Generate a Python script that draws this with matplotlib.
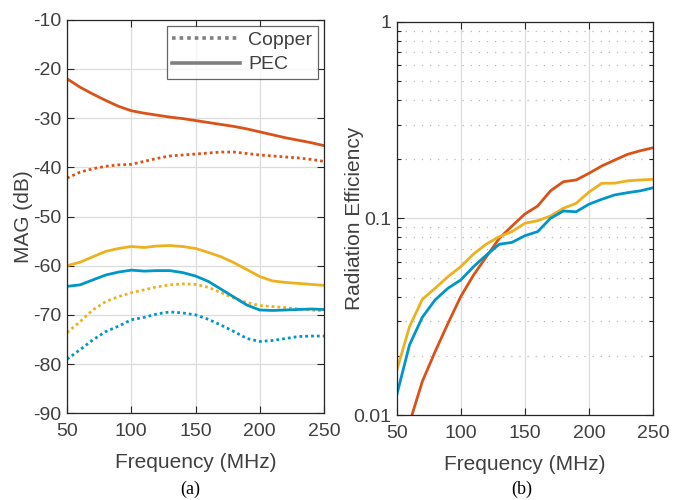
import matplotlib
matplotlib.use("Agg")
import matplotlib.pyplot as plt
from matplotlib.ticker import FixedLocator, LogLocator, NullFormatter
from matplotlib.lines import Line2D

plt.rcParams['font.family'] = ['Liberation Sans', 'DejaVu Sans']
plt.rcParams['axes.unicode_minus'] = False

freq = [50, 60, 70, 80, 90, 100, 110, 120, 130, 140, 150, 160, 170, 180, 190, 200, 210, 220, 230, 240, 250]

# (a) MAG (dB)
pec_red = [-22.0, -23.7, -25.1, -26.4, -27.6, -28.5, -29.0, -29.4, -29.8, -30.1, -30.5, -30.9, -31.3, -31.7, -32.2, -32.8, -33.4, -34.0, -34.5, -35.0, -35.6]
cu_red = [-42.2, -41.0, -40.3, -39.8, -39.5, -39.4, -38.8, -38.2, -37.7, -37.5, -37.3, -37.1, -36.9, -36.9, -37.2, -37.5, -37.7, -37.9, -38.1, -38.4, -38.8]
pec_yel = [-60.0, -59.3, -58.2, -57.1, -56.5, -56.1, -56.3, -56.0, -55.9, -56.1, -56.5, -57.3, -58.2, -59.4, -60.8, -62.2, -63.1, -63.4, -63.6, -63.8, -64.0]
cu_yel = [-73.6, -71.4, -69.0, -67.3, -66.3, -65.5, -64.9, -64.3, -63.9, -63.7, -63.8, -64.4, -65.5, -66.6, -67.5, -68.1, -68.3, -68.5, -68.8, -69.0, -69.2]
pec_blu = [-64.2, -63.9, -62.9, -61.9, -61.3, -60.9, -61.1, -61.0, -61.0, -61.4, -62.1, -63.2, -64.8, -66.4, -68.0, -69.0, -69.1, -69.0, -68.9, -68.8, -68.9]
cu_blu = [-79.0, -77.1, -75.1, -73.4, -72.3, -71.0, -70.5, -69.8, -69.4, -69.6, -70.0, -70.9, -72.1, -73.4, -74.8, -75.4, -75.2, -74.8, -74.4, -74.3, -74.3]

# (b) Radiation efficiency
eff_red = [0.0060, 0.0091, 0.0148, 0.0210, 0.0292, 0.0400, 0.0515, 0.0638, 0.0791, 0.0914, 0.1052, 0.1155, 0.138, 0.1535, 0.1567, 0.1694, 0.1846, 0.1977, 0.2115, 0.2206, 0.2285]
eff_yel = [0.0168, 0.0281, 0.0387, 0.0441, 0.0505, 0.0568, 0.0659, 0.0740, 0.0807, 0.0856, 0.0944, 0.0973, 0.1028, 0.1125, 0.1192, 0.136, 0.1507, 0.151, 0.155, 0.1567, 0.158]
eff_blu = [0.0126, 0.0227, 0.0314, 0.0385, 0.0441, 0.0486, 0.0568, 0.0651, 0.0738, 0.0755, 0.0816, 0.0856, 0.100, 0.109, 0.108, 0.118, 0.125, 0.1315, 0.135, 0.138, 0.143]

xticks = [50, 100, 150, 200, 250]
yticks_a = [-90, -80, -70, -60, -50, -40, -30, -20, -10]
yticks_b = [0.01, 0.1, 1]
yticklabels_b = ['0.01', '0.1', '1']
legend_labels = ['Copper', 'PEC']

RED = '#D95319'
YEL = '#EDB120'
BLU = '#0096C8'
TXT = '#404040'
GRID = '#dcdcdc'
DOT = (0, (1, 1.1))
LW = 2.0
TICKFS = 14
LABFS = 15

fig = plt.figure(figsize=(6.73, 5.0), dpi=100)
ax1 = fig.add_axes([0.0996, 0.1734, 0.3819, 0.7872])
ax2 = fig.add_axes([0.5894, 0.1700, 0.3809, 0.7866])

def style(ax):
    for s in ax.spines.values():
        s.set_color('#262626')
        s.set_linewidth(0.9)
    ax.tick_params(which='both', direction='in', top=True, right=True,
                   colors='#262626', labelcolor=TXT, labelsize=TICKFS, width=0.8)
    ax.tick_params(which='major', length=5)
    ax.tick_params(which='minor', length=3)
    ax.tick_params(axis='x', which='both', pad=7)
    ax.tick_params(axis='y', which='both', pad=4)
    ax.set_axisbelow(True)

# ---- (a)
ax1.plot(freq, pec_red, color=RED, lw=LW)
ax1.plot(freq, cu_red, color=RED, lw=LW, ls=DOT)
ax1.plot(freq, pec_yel, color=YEL, lw=LW)
ax1.plot(freq, cu_yel, color=YEL, lw=LW, ls=DOT)
ax1.plot(freq, pec_blu, color=BLU, lw=LW)
ax1.plot(freq, cu_blu, color=BLU, lw=LW, ls=DOT)
ax1.set_xlim(50, 250)
ax1.set_ylim(-90, -10)
ax1.set_xticks(xticks)
ax1.set_yticks(yticks_a)
ax1.grid(True, color=GRID, lw=0.9)
style(ax1)
ax1.set_xlabel('Frequency (MHz)', fontsize=LABFS, color=TXT, labelpad=9.5)
ax1.set_ylabel('MAG (dB)', fontsize=LABFS, color=TXT)
ax1.yaxis.set_label_coords(-0.131, 0.5)
handles = [Line2D([], [], color='#808080', lw=2.6, ls=DOT),
           Line2D([], [], color='#808080', lw=2.6)]
leg = ax1.legend(handles, legend_labels, loc='upper right', fontsize=14,
                 frameon=True, fancybox=False, edgecolor='#404040',
                 handlelength=3.5, handletextpad=0.4, borderpad=0.3,
                 labelspacing=0.35, borderaxespad=0.3)
leg.get_frame().set_linewidth(0.9)
for t in leg.get_texts():
    t.set_color(TXT)

# ---- (b)
ax2.plot(freq, eff_red, color=RED, lw=LW)
ax2.plot(freq, eff_yel, color=YEL, lw=LW)
ax2.plot(freq, eff_blu, color=BLU, lw=LW)
ax2.set_yscale('log')
ax2.set_xlim(50, 250)
ax2.set_ylim(0.01, 1)
ax2.set_xticks(xticks)
ax2.yaxis.set_major_locator(FixedLocator(yticks_b))
ax2.set_yticklabels(yticklabels_b)
ax2.yaxis.set_minor_locator(LogLocator(base=10, subs=range(2, 10)))
ax2.yaxis.set_minor_formatter(NullFormatter())
ax2.grid(True, which='major', color=GRID, lw=0.9)
ax2.grid(True, which='minor', axis='y', color='#b8b8b8', lw=0.9, ls=(0, (1, 5.5)))
style(ax2)
ax2.set_xlabel('Frequency (MHz)', fontsize=LABFS, color=TXT, labelpad=9.5)
ax2.set_ylabel('Radiation Efficiency', fontsize=LABFS, color=TXT)
ax2.yaxis.set_label_coords(-0.126, 0.5)

fig.text(0.283, 0.021, '(a)', family='Liberation Serif', fontsize=13, ha='center', va='center', color='black')
fig.text(0.776, 0.021, '(b)', family='Liberation Serif', fontsize=13, ha='center', va='center', color='black')

fig.savefig('out.png', dpi=100)
